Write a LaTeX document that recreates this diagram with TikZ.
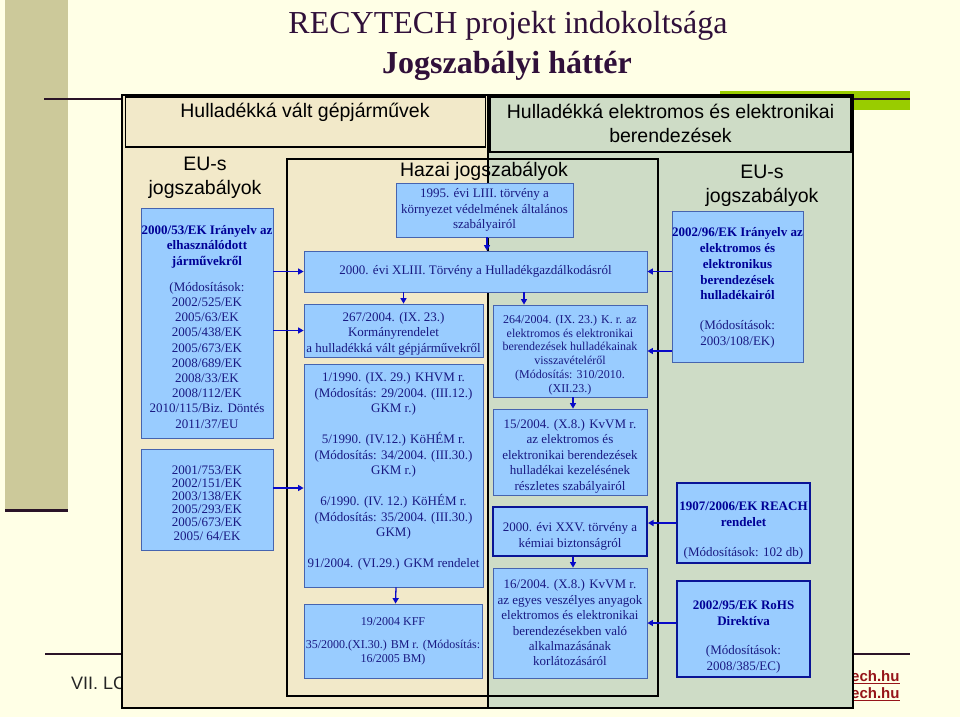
\documentclass[tikz,border=0pt]{standalone}
\usepackage{fontspec}
\setmainfont{Liberation Serif}
\newfontfamily\arial{Liberation Sans}
\usetikzlibrary{arrows.meta}
\definecolor{bgcream}{RGB}{255,255,230}
\definecolor{khaki}{RGB}{204,201,154}
\definecolor{rulec}{RGB}{42,20,40}
\definecolor{limec}{RGB}{153,204,0}
\definecolor{titlec}{RGB}{48,16,58}
\definecolor{beigep}{RGB}{242,233,201}
\definecolor{greenp}{RGB}{206,220,198}
\definecolor{boxfill}{RGB}{153,204,255}
\definecolor{boxedge}{RGB}{70,100,175}
\definecolor{thickedge}{RGB}{10,20,150}
\definecolor{boxtext}{RGB}{25,25,130}
\definecolor{boldtext}{RGB}{0,0,150}
\definecolor{arrowc}{RGB}{10,10,200}
\definecolor{linkc}{RGB}{150,20,25}
\tikzset{
  bbox/.style={draw=boxedge, fill=boxfill, line width=0.8pt, inner sep=0pt},
  tbox/.style={bbox, draw=thickedge, line width=2pt},
  btxt/.style={inner sep=0pt, align=center, text=boxtext},
  panel/.style={draw=black, line width=1.4pt, inner sep=0pt},
  sanslab/.style={font=\arial\fontsize{19.5}{23.5}\selectfont, text=black, align=center, inner sep=0pt},
  arr/.style={draw=arrowc, line width=1.3pt, -{Triangle[length=5.5pt,width=6pt]}},
  fs13/.style={font=\fontsize{13}{15.5}\selectfont},
}
\begin{document}
\begin{tikzpicture}[x=1pt,y=-1pt]
\fill[bgcream] (0,0) rectangle (960,717);
\useasboundingbox (0,0) rectangle (960,717);
% template decoration
\fill[khaki] (5,0) rectangle (68,511);
\draw[rulec, line width=3pt] (5,510) -- (68,510);
\fill[limec] (720,91) rectangle (910,110);
\draw[rulec, line width=2.2pt] (44,99) -- (910,99);
\draw[rulec, line width=2.2pt] (45,654) -- (910,654);
\node[anchor=west, font=\arial\fontsize{18}{20}\selectfont, text=black!85, inner sep=0pt] (foot) at (71,683) {VII. LCA};
\node[anchor=west, font=\arial\bfseries\fontsize{15}{16}\selectfont, text=linkc, inner sep=0pt] (link1) at (851,677) {\underline{ech.hu}};
\node[anchor=west, font=\arial\bfseries\fontsize{15}{16}\selectfont, text=linkc, inner sep=0pt] (link2) at (851,694) {\underline{ech.hu}};
% title
\node[font=\fontsize{32}{36}\selectfont, text=titlec, inner sep=0pt] (title1) at (508,26) {RECYTECH projekt indokoltsága};
\node[font=\bfseries\fontsize{32}{36}\selectfont, text=titlec, inner sep=0pt] (title2) at (507,66) {Jogszabályi háttér};
% panels
\node[panel, fill=greenp, minimum width=365pt, minimum height=613pt] (rpanel) at (670.5,401.5) {};
\node[panel, fill=beigep, minimum width=366pt, minimum height=613pt] (lpanel) at (305,401.5) {};
\node[panel, fill=beigep, minimum width=360pt, minimum height=50pt] (lhead) at (305.5,122) {};
\node[panel, fill=greenp, minimum width=361pt, minimum height=55pt] (rhead) at (670.5,124.5) {};
\node[sanslab] (lheadtxt) at (305,112) {Hulladékká vált gépjárművek};
\node[sanslab] (rheadtxt) at (670.5,123.5) {Hulladékká elektromos és elektronikai\\berendezések};
\node[panel, minimum width=371pt, minimum height=537pt] (hazai) at (472.5,427.5) {};
\node[sanslab] (hazaitxt) at (484,171) {Hazai jogszabályok};
\node[sanslab] (leutxt) at (205,178) {EU-s\\jogszabályok};
\node[sanslab] (reutxt) at (762,186) {EU-s\\jogszabályok};
% EU boxes left
\node[bbox, minimum width=132pt, minimum height=230pt] (eu1) at (207,323) {};
\node[btxt, font=\fontsize{13}{15.2}\selectfont] (eu1t) at ([yshift=-4pt]eu1.center) {%
\textcolor{boldtext}{\textbf{2000/53/EK Irányelv az}}\\
\textcolor{boldtext}{\textbf{elhasználódott}}\\
\textcolor{boldtext}{\textbf{járművekről}}\\[11pt]
(Módosítások:\\ 2002/525/EK\\ 2005/63/EK\\ 2005/438/EK\\ 2005/673/EK\\ 2008/689/EK\\ 2008/33/EK\\ 2008/112/EK\\ 2010/115/Biz. Döntés\\ 2011/37/EU};
\node[bbox, minimum width=132pt, minimum height=101pt] (eu2) at (207,500) {};
\node[btxt, font=\fontsize{13}{13.1}\selectfont] (eu2t) at ([yshift=-3pt]eu2.center) {%
2001/753/EK\\ 2002/151/EK\\ 2003/138/EK\\ 2005/293/EK\\ 2005/673/EK\\ 2005/ 64/EK};
% Hazai boxes
\node[bbox, minimum width=177pt, minimum height=54pt] (h1995) at (484.5,210) {};
\node[btxt, font=\fontsize{13}{15.5}\selectfont] (h1995t) at (h1995.center) {1995. évi LIII. törvény a\\ környezet védelmének általános\\ szabályairól};
\node[bbox, minimum width=343pt, minimum height=41pt] (h2000) at (475.5,271.5) {};
\node[btxt, fs13] (h2000t) at (h2000.center) {2000. évi XLIII. Törvény a Hulladékgazdálkodásról};
\node[bbox, minimum width=179pt, minimum height=53pt] (h267) at (393.5,330.5) {};
\node[btxt, fs13] (h267t) at ([yshift=-3pt]h267.center) {267/2004. (IX. 23.)\\ Kormányrendelet\\ a hulladékká vált gépjárművekről};
\node[bbox, minimum width=179pt, minimum height=223pt] (h1990) at (393.5,475.5) {};
\node[btxt, fs13] (h1990t) at ([yshift=4pt]h1990.center) {%
1/1990. (IX. 29.) KHVM r.\\ (Módosítás: 29/2004. (III.12.)\\ GKM r.)\\[15.5pt]
5/1990. (IV.12.) KöHÉM r.\\ (Módosítás: 34/2004. (III.30.)\\ GKM r.)\\[15.5pt]
6/1990. (IV. 12.) KöHÉM r.\\ (Módosítás: 35/2004. (III.30.)\\ GKM)\\[15.5pt]
91/2004. (VI.29.) GKM rendelet};
\node[bbox, minimum width=178pt, minimum height=74pt] (h19) at (393,641) {};
\node[btxt, font=\fontsize{12}{14}\selectfont] (h19t) at (h19.center) {19/2004 KFF\\[9pt] 35/2000.(XI.30.) BM r. (Módosítás:\\ 16/2005 BM)};
\node[bbox, minimum width=154pt, minimum height=92pt] (h264) at (570,351) {};
\node[btxt, font=\fontsize{12}{13.8}\selectfont] (h264t) at ([yshift=-4pt]h264.center) {264/2004. (IX. 23.) K. r. az\\ elektromos és elektronikai\\ berendezések hulladékainak\\ visszavételéről\\ (Módosítás: 310/2010.\\ (XII.23.)};
\node[bbox, minimum width=154pt, minimum height=86pt] (h15) at (570,452) {};
\node[btxt, fs13] (h15t) at ([yshift=-4pt]h15.center) {15/2004. (X.8.) KvVM r.\\ az elektromos és\\ elektronikai berendezések\\ hulladékai kezelésének\\ részletes szabályairól};
\node[tbox, minimum width=154pt, minimum height=49pt] (hxxv) at (570,531.5) {};
\node[btxt, font=\fontsize{13}{15.5}\selectfont] (hxxvt) at ([yshift=-5pt]hxxv.center) {2000. évi XXV. törvény a\\ kémiai biztonságról};
\node[bbox, minimum width=154pt, minimum height=110pt] (h16) at (570,623) {};
\node[btxt, font=\fontsize{13}{15.4}\selectfont] (h16t) at (h16.center) {16/2004. (X.8.) KvVM r.\\ az egyes veszélyes anyagok\\ elektromos és elektronikai\\ berendezésekben való\\ alkalmazásának\\ korlátozásáról};
% EU boxes right
\node[bbox, minimum width=131pt, minimum height=151pt] (reu1) at (737.5,287) {};
\node[btxt, font=\fontsize{13}{15.8}\selectfont] (reu1t) at ([yshift=-1pt]reu1.center) {%
\textcolor{boldtext}{\textbf{2002/96/EK Irányelv az}}\\
\textcolor{boldtext}{\textbf{elektromos és}}\\
\textcolor{boldtext}{\textbf{elektronikus}}\\
\textcolor{boldtext}{\textbf{berendezések}}\\
\textcolor{boldtext}{\textbf{hulladékairól}}\\[14pt]
(Módosítások:\\ 2003/108/EK)};
\node[tbox, minimum width=133pt, minimum height=80pt] (reach) at (743.5,523) {};
\node[btxt, font=\fontsize{13}{16}\selectfont] (reacht) at ([yshift=-8pt]reach.center) {%
\textcolor{boldtext}{\textbf{1907/2006/EK REACH}}\\
\textcolor{boldtext}{\textbf{rendelet}}\\[14pt]
(Módosítások: 102 db)};
\node[tbox, minimum width=133pt, minimum height=96pt] (rohs) at (743.5,629) {};
\node[btxt, font=\fontsize{13}{15.5}\selectfont] (rohst) at ([yshift=-8pt]rohs.center) {%
\textcolor{boldtext}{\textbf{2002/95/EK RoHS}}\\
\textcolor{boldtext}{\textbf{Direktíva}}\\[14pt]
(Módosítások:\\ 2008/385/EC)};
% arrows
\coordinate (e2t) at ([yshift=-12.5pt]h1990.west);
\draw[arr] ([xshift=2.5pt]h1995.south) -- ([xshift=2.5pt]h1995.south |- h2000.north);
\draw[arr] ([xshift=10pt]h267.north |- h2000.south) -- ([xshift=10pt]h267.north);
\draw[arr] ([xshift=-46pt]h264.north |- h2000.south) -- ([xshift=-46pt]h264.north);
\draw[arr] ([xshift=3pt]h264.south) -- ([xshift=3pt]h15.north);
\draw[arr] ([xshift=3pt]hxxv.south) -- ([xshift=3pt]h16.north);
\draw[arr] ([xshift=2.5pt]h1990.south) -- ([xshift=2.5pt]h19.north);
\draw[arr] (eu1.east |- h2000.west) -- (h2000.west);
\draw[arr] (eu1.east |- h267.west) -- (h267.west);
\draw[arr] (eu2.east |- e2t) -- (e2t);
\draw[arr] (reu1.west |- h2000.east) -- (h2000.east);
\draw[arr] (reu1.west |- h264.east) -- (h264.east);
\draw[arr] (reach.west) -- (reach.west -| hxxv.east);
\draw[arr] (rohs.west |- h16.east) -- (h16.east);
\end{tikzpicture}
\end{document}
